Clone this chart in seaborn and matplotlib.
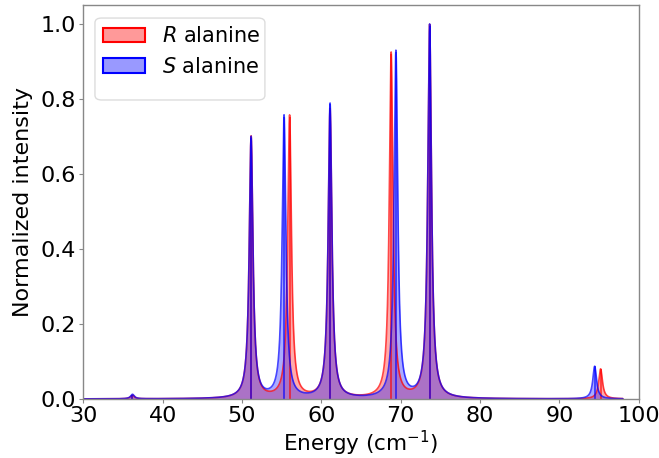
import numpy as np
import pandas as pd
import matplotlib
matplotlib.use("Agg")
import matplotlib.pyplot as plt
from matplotlib.patches import Patch, FancyBboxPatch
import seaborn as sns

# Peak data (energy in cm^-1, normalized intensity)
r_positions = [36.2, 51.15, 56.0, 61.1, 68.8, 73.65, 95.2]
r_heights = [0.010, 0.698, 0.752, 0.770, 0.920, 0.995, 0.080]
s_positions = [36.2, 51.15, 55.3, 61.1, 69.4, 73.65, 94.45]
s_heights = [0.012, 0.696, 0.752, 0.785, 0.924, 0.995, 0.087]
linewidth_hwhm = 0.28  # Lorentzian half width (cm^-1)

x_ticks = [30, 40, 50, 60, 70, 80, 90, 100]
y_ticks = [0.0, 0.2, 0.4, 0.6, 0.8, 1.0]

sns.set_style("white")
plt.rcParams["font.family"] = ["DejaVu Sans"]
plt.rcParams["text.color"] = "black"
plt.rcParams["axes.labelcolor"] = "black"
plt.rcParams["xtick.color"] = "#888888"
plt.rcParams["ytick.color"] = "#888888"
plt.rcParams["xtick.labelcolor"] = "black"
plt.rcParams["ytick.labelcolor"] = "black"

energy = np.linspace(30.0, 98.0, 20001)


def spectrum(pos, hts):
    out = np.zeros_like(energy)
    for p, h in zip(pos, hts):
        out += h * linewidth_hwhm**2 / ((energy - p) ** 2 + linewidth_hwhm**2)
    return out


df = pd.DataFrame({
    "energy": np.concatenate([energy, energy]),
    "intensity": np.concatenate([spectrum(r_positions, r_heights),
                                 spectrum(s_positions, s_heights)]),
    "form": ["R"] * len(energy) + ["S"] * len(energy),
})

fig = plt.figure(figsize=(6.59, 4.58), dpi=100)
ax = fig.add_axes([0.1264, 0.1288, 0.8428, 0.8602])

colors = {"R": "red", "S": "blue"}
for form in ["R", "S"]:
    sub = df[df["form"] == form]
    ax.fill_between(sub["energy"], 0, sub["intensity"], color=colors[form],
                    alpha=0.33, linewidth=0)
for form, pos, hts in [("R", r_positions, r_heights), ("S", s_positions, s_heights)]:
    sub = df[df["form"] == form]
    sns.lineplot(data=sub, x="energy", y="intensity", ax=ax, color=colors[form],
                 linewidth=1.2, alpha=0.72, legend=False)
    ax.vlines(pos, 0, hts, color=colors[form], linewidth=1.2, alpha=0.72)

ax.set_xlim(30, 100)
ax.set_ylim(0, 1.05)
ax.set_xticks(x_ticks)
ax.set_yticks(y_ticks)
ax.set_xticklabels([str(t) for t in x_ticks])
ax.set_yticklabels([f"{t:.1f}" for t in y_ticks])
ax.tick_params(axis="both", labelsize=16, length=3, width=0.8,
               direction="out", bottom=True, left=True, pad=2)
for s in ax.spines.values():
    s.set_color("#888888")
    s.set_linewidth(1.0)
ax.set_xlabel("Energy (cm$^{-1}$)", fontsize=15.5, labelpad=2)
ax.set_ylabel("Normalized intensity", fontsize=16, labelpad=6)

# legend frame (drawn separately to match the reference's taller box)
frame = FancyBboxPatch((0.021, 0.759), 0.306, 0.208, transform=ax.transAxes,
                       boxstyle="round,pad=0,rounding_size=0.012",
                       facecolor="white", edgecolor="#d9d9d9", linewidth=1.0,
                       alpha=0.9, zorder=4)
ax.add_patch(frame)

handles = [
    Patch(facecolor=(1, 0, 0, 0.4), edgecolor="red", linewidth=1.5),
    Patch(facecolor=(0, 0, 1, 0.4), edgecolor="blue", linewidth=1.5),
]
labels = ["$R$ alanine", "$S$ alanine"]
leg = ax.legend(handles, labels, loc="upper left", fontsize=15, frameon=False,
                bbox_to_anchor=(0.021, 0.967), borderaxespad=0.0)
leg.set_zorder(5)

fig.savefig("out.png", dpi=100)
